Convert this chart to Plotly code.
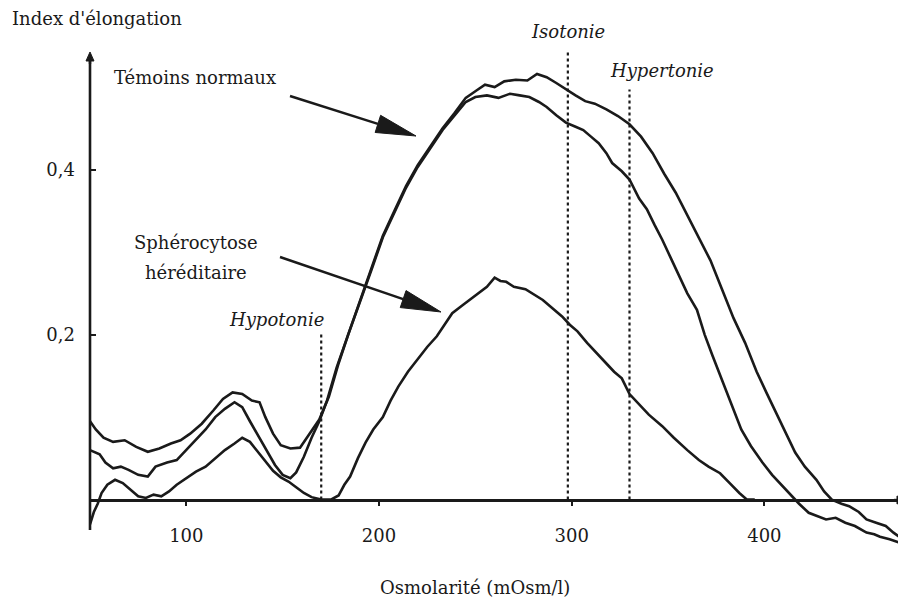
import math
import plotly.graph_objects as go

# ---------------- data ----------------
temoins_a_x = [50, 53, 57, 62, 68, 74, 80, 86, 92, 97, 102, 108, 114, 119, 124, 129, 134, 138, 141, 145,
               149, 154, 159, 164, 169, 174, 179, 184, 190, 196, 202, 208, 214, 220, 227, 233, 239, 245,
               250, 255, 260, 265, 271, 277, 282, 287, 292, 297, 302, 307, 312, 318, 324, 330, 336, 342,
               348, 354, 360, 366, 372, 378, 384, 390, 396, 401, 406, 411, 416, 421, 427, 431, 435, 440,
               444, 449, 453, 458, 463, 467, 470]
temoins_a_y = [0.095, 0.085, 0.075, 0.07, 0.072, 0.064, 0.058, 0.062, 0.068, 0.072, 0.08, 0.092, 0.108,
               0.122, 0.13, 0.128, 0.12, 0.118, 0.10, 0.08, 0.066, 0.062, 0.063, 0.08, 0.097, 0.125, 0.165,
               0.2, 0.24, 0.28, 0.32, 0.35, 0.38, 0.405, 0.43, 0.45, 0.468, 0.487, 0.495, 0.503, 0.5, 0.507,
               0.509, 0.508, 0.516, 0.512, 0.505, 0.497, 0.49, 0.483, 0.48, 0.473, 0.465, 0.455, 0.44, 0.42,
               0.395, 0.372, 0.345, 0.318, 0.29, 0.255, 0.22, 0.19, 0.155, 0.13, 0.105, 0.08, 0.057, 0.04,
               0.024, 0.01, 0.0, -0.005, -0.008, -0.015, -0.024, -0.028, -0.032, -0.04, -0.045]

temoins_b_x = [50, 55, 58, 62, 66, 70, 75, 80, 84, 90, 95, 100, 105, 110, 115, 120, 125, 129, 133, 138,
               142, 146, 150, 154, 157, 161, 165, 169, 173, 178, 184, 190, 196, 202, 208, 214, 220, 227,
               233, 239, 245, 250, 256, 262, 268, 273, 278, 283, 287, 292, 297, 302, 306, 310, 314, 318,
               321, 326, 330, 335, 339, 343, 347, 352, 356, 360, 365, 369, 373, 378, 383, 388, 393, 399,
               404, 408, 414, 418, 423, 428, 432, 437, 442, 447, 453, 457, 460, 465, 470]
temoins_b_y = [0.06, 0.055, 0.045, 0.038, 0.04, 0.036, 0.03, 0.028, 0.04, 0.045, 0.048, 0.06, 0.072, 0.085,
               0.1, 0.11, 0.118, 0.112, 0.095, 0.075, 0.058, 0.042, 0.03, 0.026, 0.033, 0.052, 0.075, 0.095,
               0.12, 0.16, 0.2, 0.238, 0.278, 0.318, 0.348, 0.378, 0.403, 0.428, 0.448, 0.465, 0.482, 0.488,
               0.49, 0.487, 0.492, 0.49, 0.488, 0.482, 0.476, 0.466, 0.457, 0.452, 0.448, 0.44, 0.432, 0.42,
               0.408, 0.398, 0.388, 0.365, 0.352, 0.333, 0.315, 0.29, 0.27, 0.25, 0.23, 0.2, 0.175, 0.145,
               0.115, 0.085, 0.065, 0.045, 0.03, 0.02, 0.004, -0.005, -0.016, -0.02, -0.024, -0.022, -0.028,
               -0.032, -0.04, -0.042, -0.045, -0.048, -0.052]

sphero_x = [50, 52, 54, 56, 59, 63, 67, 71, 75, 79, 83, 87, 91, 95, 100, 105, 110, 115, 120, 125, 129, 133,
            137, 141, 145, 149, 153, 157, 161, 165, 170, 175, 179, 182, 185, 189, 193, 197, 202, 206, 210,
            215, 221, 225, 230, 234, 238, 243, 247, 251, 256, 260, 263, 266, 270, 276, 281, 285, 290, 295,
            299, 303, 308, 313, 318, 322, 326, 330, 335, 340, 347, 353, 360, 366, 371, 377, 382, 387, 391, 395]
sphero_y = [-0.03, -0.015, -0.005, 0.008, 0.018, 0.024, 0.02, 0.012, 0.004, 0.002, 0.006, 0.004, 0.01,
            0.018, 0.026, 0.034, 0.04, 0.05, 0.06, 0.068, 0.075, 0.07, 0.058, 0.046, 0.035, 0.027, 0.022,
            0.015, 0.008, 0.003, 0.0, 0.0, 0.005, 0.018, 0.028, 0.05, 0.069, 0.085, 0.1, 0.12, 0.137, 0.155,
            0.173, 0.185, 0.198, 0.212, 0.226, 0.235, 0.242, 0.25, 0.258, 0.269, 0.265, 0.264, 0.258, 0.255,
            0.248, 0.242, 0.232, 0.222, 0.212, 0.204, 0.19, 0.178, 0.165, 0.155, 0.147, 0.128, 0.115, 0.103,
            0.089, 0.075, 0.06, 0.048, 0.04, 0.032, 0.02, 0.008, 0.0, 0.0]

marker_names = ["Hypotonie", "Isotonie", "Hypertonie"]
marker_x = [170, 298, 330]
marker_top = [0.2, 0.543, 0.497]

x_ticks = [100, 200, 300, 400]
y_ticks = [0.2, 0.4]

# ---------------- figure ----------------
OFF = 8                      # the page body adds an 8px margin around the figure
W, H = 906 - OFF, 608 - OFF
# plot area in page pixels: x 90..906, y 50..545
ML, MR = 90 - OFF, 0
MT, MB = 50 - OFF, H - (545 - OFF)
X_RANGE = [50, 473.5]
Y_RANGE = [-0.055, 0.545]
FONT = "DejaVu Serif"
INK = "#1a1a1a"
FS = 18


def px2paper(px, py):
    fx, fy = px - OFF, py - OFF
    return (fx - ML) / (W - ML - MR), 1 - (fy - MT) / (H - MT - MB)


fig = go.Figure()
line_style = dict(color=INK, width=2.6)
fig.add_trace(go.Scatter(x=temoins_a_x, y=temoins_a_y, mode="lines", line=line_style,
                         name="Témoins normaux", showlegend=False, cliponaxis=False))
fig.add_trace(go.Scatter(x=temoins_b_x, y=temoins_b_y, mode="lines", line=line_style,
                         name="Témoins normaux", showlegend=False, cliponaxis=False))
fig.add_trace(go.Scatter(x=sphero_x, y=sphero_y, mode="lines", line=line_style,
                         name="Sphérocytose héréditaire", showlegend=False, cliponaxis=False))

# dotted reference lines
for xv, top in zip(marker_x, marker_top):
    fig.add_shape(type="line", xref="x", yref="y", x0=xv, x1=xv, y0=0, y1=top,
                  line=dict(color=INK, width=2.2, dash="dot"))

# y axis line (page pixels x=90, from y=530 up to the arrow tip)
ya0 = px2paper(90, 530)
ya1 = px2paper(90, 60)
fig.add_shape(type="line", xref="paper", yref="paper", x0=ya0[0], x1=ya1[0], y0=ya0[1], y1=ya1[1],
              line=dict(color=INK, width=2.6))

annotations = []
txt = dict(family=FONT, size=FS, color=INK)
itxt = dict(family=FONT, size=FS, color=INK, style="italic")


def label(text, px, py, font=txt, xanchor="center"):
    xp, yp = px2paper(px, py)
    annotations.append(dict(text=text, x=xp, y=yp, xref="paper", yref="paper",
                            showarrow=False, font=font, xanchor=xanchor, yanchor="middle"))


label("Index d'élongation", 10, 18, xanchor="left")
label("Osmolarité (mOsm/l)", 475, 587)
label("Témoins normaux", 195, 77)
label("Sphérocytose", 196, 242)
label("héréditaire", 196, 272)
label("<i>Hypotonie</i>", 276, 319, font=itxt)
label("<i>Isotonie</i>", 568, 32, font=itxt)
label("<i>Hypertonie</i>", 662, 70, font=itxt)


def head_path(tail, tip, length, half):
    dx, dy = tip[0] - tail[0], tip[1] - tail[1]
    n = math.hypot(dx, dy)
    ux, uy = dx / n, dy / n
    bx, by = tip[0] - ux * length, tip[1] - uy * length
    pts = [tip, (bx - uy * half, by + ux * half), (bx + uy * half, by - ux * half)]
    pp = [px2paper(*p) for p in pts]
    return "M {:.5f} {:.5f} L {:.5f} {:.5f} L {:.5f} {:.5f} Z".format(
        pp[0][0], pp[0][1], pp[1][0], pp[1][1], pp[2][0], pp[2][1]), (bx, by)


def arrow(tail, tip, length=40, half=9, width=2.4):
    path, base = head_path(tail, tip, length, half)
    x0, y0 = px2paper(*tail)
    x1, y1 = px2paper(*base)
    fig.add_shape(type="line", xref="paper", yref="paper", x0=x0, y0=y0, x1=x1, y1=y1,
                  line=dict(color=INK, width=width))
    fig.add_shape(type="path", xref="paper", yref="paper", path=path,
                  fillcolor=INK, line=dict(color=INK, width=1))


arrow((290, 96), (416, 136))
arrow((280, 257), (441, 312))
# axis arrow tips
arrow((90, 64), (90, 52), length=9, half=4)
arrow((894, 500), (906, 500), length=9, half=4)

fig.update_layout(
    width=W, height=H,
    margin=dict(l=ML, r=MR, t=MT, b=MB, autoexpand=False),
    paper_bgcolor="white", plot_bgcolor="white",
    separators=",.",
    showlegend=False,
    annotations=annotations,
    xaxis=dict(range=X_RANGE, anchor="free", position=(0 - Y_RANGE[0]) / (Y_RANGE[1] - Y_RANGE[0]),
               automargin=False,
               showline=True, linecolor=INK, linewidth=2.6, showgrid=False, zeroline=False,
               tickvals=x_ticks, ticks="outside", ticklen=5, tickwidth=2, tickcolor=INK,
               ticklabelstandoff=14, tickfont=dict(family=FONT, size=FS, color=INK)),
    yaxis=dict(range=Y_RANGE, showline=False, showgrid=False, zeroline=False, automargin=False,
               tickvals=y_ticks, tickformat=".1f", ticks="inside", ticklen=6, tickwidth=2,
               tickcolor=INK, ticklabelstandoff=14, tickfont=dict(family=FONT, size=FS, color=INK)),
)

fig.write_html("out.html")
